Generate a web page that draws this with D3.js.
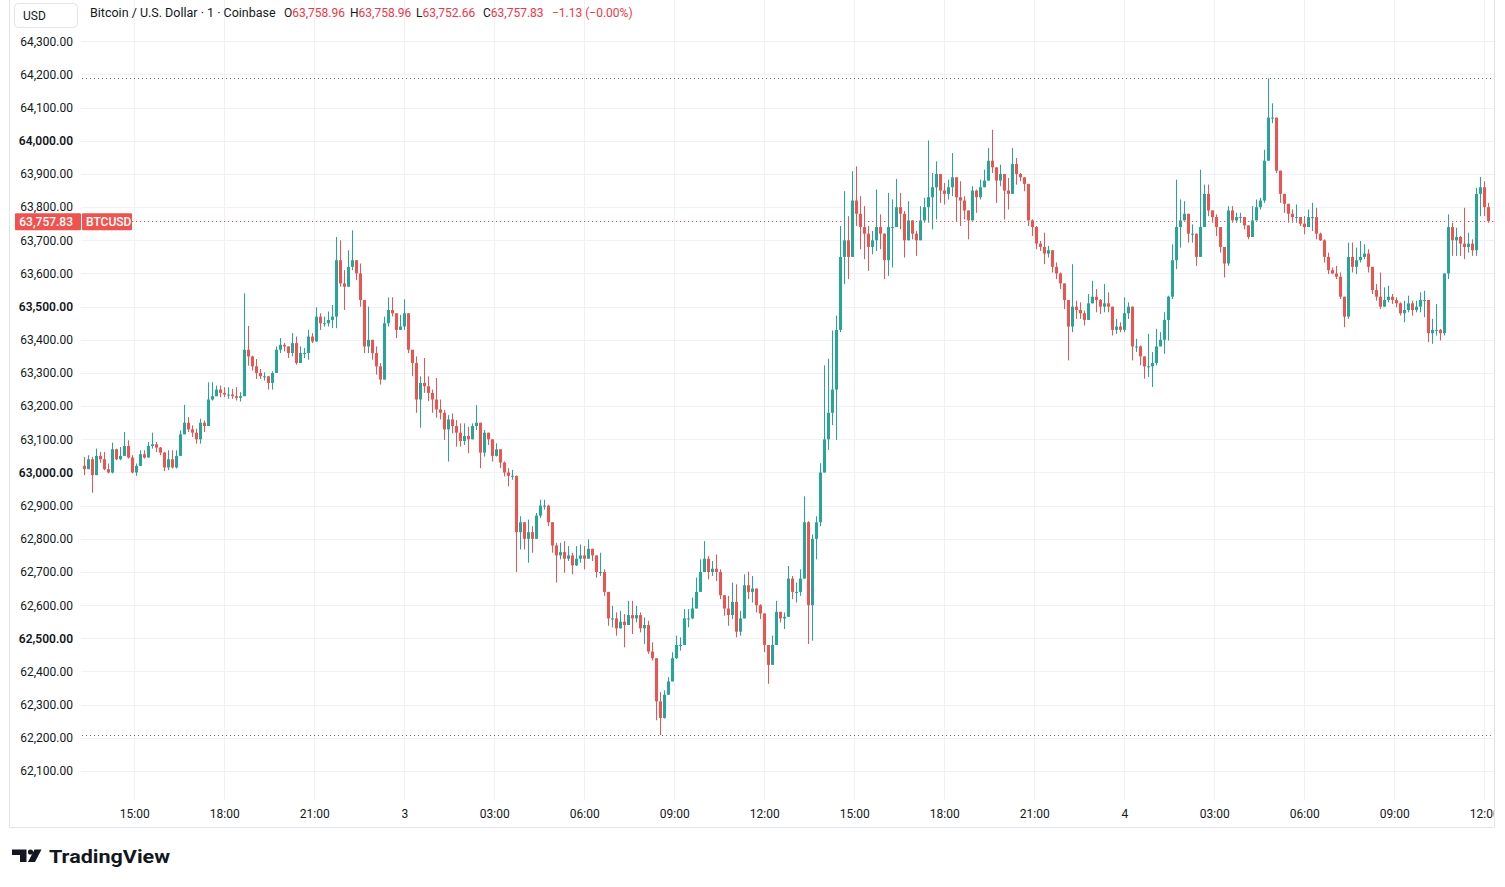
<!DOCTYPE html>
<html><head><meta charset="utf-8">
<script src="https://cdn.jsdelivr.net/npm/d3@7"></script>
<style>
body{margin:0;background:#fff;}
svg{display:block;font-family:Roboto,"Liberation Sans",sans-serif;}
</style>
</head><body>
<svg id="chart" width="1505" height="887"></svg>
<script>
// ---------------- data ----------------
const startTime = "2024-10-02T13:16:00Z";   // first (8-minute) candle
const candleMinutes = 8;
const firstOpen = 63020;
const closes = [
63010,63040,62992,63050,63040,63010,63000,63070,63040,63050,
63080,63045,63000,63020,63055,63045,63080,63085,63075,63060,
63015,63040,63015,63050,63115,63150,63130,63120,63100,63150,
63140,63220,63230,63250,63240,63235,63235,63230,63225,63230,
63370,63350,63320,63300,63290,63290,63270,63300,63370,63385,
63380,63360,63390,63330,63360,63360,63410,63395,63470,63450,
63450,63460,63470,63640,63570,63560,63620,63640,63600,63520,
63380,63400,63360,63320,63280,63450,63490,63480,63430,63440,
63480,63370,63330,63220,63270,63260,63240,63220,63190,63180,
63130,63160,63140,63120,63095,63110,63100,63140,63150,63060,
63120,63100,63050,63070,63030,63000,62990,62990,62820,62850,
62800,62820,62800,62870,62900,62900,62850,62780,62750,62760,
62740,62750,62720,62740,62750,62740,62770,62750,62700,62700,
62640,62560,62560,62530,62550,62540,62570,62560,62570,62530,
62540,62460,62440,62310,62260,62330,62370,62440,62480,62480,
62560,62560,62590,62640,62700,62740,62700,62710,62700,62630,
62590,62570,62610,62520,62560,62660,62640,62650,62600,62575,
62480,62420,62480,62580,62560,62565,62680,62640,62640,62680,
62850,62600,62800,62850,63000,63100,63180,63250,63430,63650,
63700,63650,63820,63780,63740,63720,63680,63700,63740,63720,
63640,63740,63740,63800,63780,63700,63760,63720,63700,63760,
63800,63830,63860,63900,63850,63840,63860,63890,63830,63820,
63790,63760,63850,63830,63860,63880,63940,63920,63880,63900,
63850,63840,63930,63900,63890,63870,63760,63740,63690,63680,
63660,63670,63620,63600,63570,63520,63440,63500,63490,63480,
63460,63510,63530,63520,63500,63510,63500,63430,63440,63430,
63480,63500,63380,63380,63350,63320,63320,63330,63380,63400,
63460,63530,63640,63740,63760,63780,63720,63720,63650,63740,
63840,63790,63770,63740,63680,63630,63790,63760,63770,63770,
63745,63710,63760,63800,63820,63940,64070,64070,63910,63840,
63810,63780,63770,63770,63750,63740,63770,63770,63720,63700,
63650,63610,63600,63590,63530,63470,63650,63620,63640,63650,
63660,63620,63550,63530,63500,63520,63530,63520,63510,63480,
63490,63510,63490,63500,63520,63520,63420,63430,63430,63420,
63600,63740,63700,63710,63690,63680,63690,63670,63840,63860,
63800,63757.83
];
const highs = [
63047,63052,63047,63072,63062,63062,63027,63090,63072,63077,
63122,63097,63052,63027,63067,63067,63092,63120,63092,63077,
63062,63067,63067,63067,63127,63204,63167,63142,63132,63162,
63157,63272,63272,63262,63262,63257,63257,63252,63257,63242,
63540,63442,63352,63342,63312,63302,63290,63305,63380,63405,
63390,63375,63420,63410,63380,63375,63430,63420,63498,63480,
63470,63485,63505,63710,63700,63610,63670,63730,63630,63630,
63510,63500,63380,63380,63330,63470,63528,63528,63480,63475,
63522,63470,63360,63350,63290,63345,63290,63250,63285,63220,
63188,63173,63178,63158,63148,63148,63138,63148,63203,63128,
63128,63118,63098,63088,63053,63033,63013,63008,62988,62868,
62838,62858,62838,62878,62918,62918,62903,62838,62788,62788,
62793,62778,62758,62778,62783,62778,62798,62768,62748,62758,
62708,62613,62598,62578,62583,62573,62613,62613,62598,62578,
62563,62553,62488,62413,62338,62343,62383,62458,62508,62503,
62588,62588,62623,62683,62738,62793,62748,62733,62753,62708,
62628,62628,62668,62663,62583,62693,62701,62688,62618,62603,
62533,62478,62508,62613,62578,62578,62718,62688,62668,62708,
62928,62853,62813,62868,63028,63323,63343,63428,63473,63743,
63848,63773,63908,63923,63833,63803,63743,63728,63853,63778,
63713,63843,63823,63885,63843,63788,63818,63733,63728,63803,
63828,64001,63903,63938,63883,63873,63883,63963,63883,63878,
63833,63783,63863,63853,63883,63913,63978,64033,63913,63928,
63883,63888,63978,63948,63903,63888,63868,63763,63743,63698,
63723,63683,63663,63633,63603,63563,63468,63628,63518,63513,
63488,63538,63578,63553,63523,63568,63543,63473,63463,63453,
63528,63513,63473,63403,63383,63343,63418,63363,63433,63423,
63483,63533,63688,63883,63823,63818,63758,63748,63693,63913,
63868,63868,63778,63778,63723,63648,63803,63803,63783,63783,
63753,63743,63803,63823,63828,63973,64188,64113,64013,63898,
63833,63808,63793,63808,63768,63773,63793,63813,63798,63723,
63703,63663,63618,63623,63603,63523,63693,63693,63678,63698,
63688,63673,63608,63568,63603,63558,63563,63538,63528,63513,
63518,63533,63518,63518,63543,63548,63483,63463,63508,63433,
63593,63778,63753,63738,63713,63798,63723,63703,63858,63891,
63878,63813
];
const lows = [
62992,63012,62939,62992,63029,63007,62997,62997,63037,63037,
63052,63042,62997,62990,63022,63042,63057,63072,63062,63052,
63004,63007,63012,63012,63062,63122,63122,63107,63087,63087,
63122,63152,63217,63237,63227,63227,63222,63222,63217,63214,
63232,63322,63307,63282,63282,63277,63250,63250,63300,63360,
63365,63345,63350,63325,63335,63345,63340,63390,63405,63430,
63440,63440,63435,63435,63560,63490,63585,63610,63580,63500,
63360,63360,63340,63295,63265,63320,63440,63470,63405,63430,
63430,63360,63290,63180,63135,63240,63215,63180,63165,63160,
63098,63033,63118,63078,63078,63083,63058,63103,63128,63013,
63048,63083,63033,63048,63013,62988,62958,62978,62700,62768,
62768,62728,62758,62838,62863,62888,62838,62758,62668,62738,
62698,62733,62693,62718,62728,62708,62748,62733,62683,62688,
62628,62538,62533,62508,62538,62473,62558,62513,62548,62518,
62483,62453,62433,62253,62208,62258,62338,62388,62438,62463,
62508,62533,62558,62603,62658,62733,62678,62688,62673,62618,
62568,62538,62558,62503,62508,62568,62618,62608,62578,62558,
62458,62363,62463,62543,62548,62528,62568,62618,62608,62628,
62723,62483,62493,62738,62838,63003,63068,63143,63098,63423,
63568,63583,63723,63743,63673,63643,63608,63658,63668,63673,
63583,63593,63618,63753,63733,63648,63703,63703,63653,63728,
63753,63753,63733,63763,63813,63808,63823,63833,63758,63743,
63763,63703,63763,63783,63823,63863,63888,63903,63813,63863,
63763,63793,63853,63868,63878,63848,63743,63713,63673,63668,
63628,63648,63603,63583,63553,63493,63338,63423,63463,63463,
63443,63473,63513,63483,63478,63483,63483,63413,63418,63423,
63423,63463,63338,63363,63323,63283,63288,63258,63323,63383,
63358,63398,63523,63613,63678,63763,63693,63693,63623,63653,
63803,63773,63753,63713,63663,63588,63623,63753,63753,63753,
63733,63703,63743,63768,63793,63813,63943,64053,63903,63813,
63783,63753,63753,63753,63743,63718,63743,63728,63703,63698,
63633,63598,63598,63583,63523,63438,63463,63603,63598,63633,
63643,63603,63538,63518,63493,63503,63513,63508,63498,63473,
63453,63483,63473,63483,63483,63468,63393,63388,63413,63398,
63413,63583,63653,63653,63653,63643,63663,63653,63653,63773,
63773,63752.66
];
const priceTicks = [62100,62200,62300,62400,62500,62600,62700,62800,62900,63000,63100,63200,
  63300,63400,63500,63600,63700,63800,63900,64000,64100,64200,64300];
const majorPriceTicks = [62500,63000,63500,64000];
const timeTicks = ["2024-10-02T15:00:00Z","2024-10-02T18:00:00Z","2024-10-02T21:00:00Z","2024-10-03T00:00:00Z",
  "2024-10-03T03:00:00Z","2024-10-03T06:00:00Z","2024-10-03T09:00:00Z","2024-10-03T12:00:00Z",
  "2024-10-03T15:00:00Z","2024-10-03T18:00:00Z","2024-10-03T21:00:00Z","2024-10-04T00:00:00Z",
  "2024-10-04T03:00:00Z","2024-10-04T06:00:00Z","2024-10-04T09:00:00Z","2024-10-04T12:00:00Z"];
const timeTickLabels = ["15:00","18:00","21:00","3","03:00","06:00","09:00","12:00",
  "15:00","18:00","21:00","4","03:00","06:00","09:00","12:00"];
const symbolTitle = "Bitcoin / U.S. Dollar · 1 · Coinbase";
const symbolTicker = "BTCUSD";
const currencyLabel = "USD";
const lastBarLetters = ["O","H","L","C"];
const lastBarValues = [63758.96, 63758.96, 63752.66, 63757.83];
const lastChange = "−1.13 (−0.00%)";

// ---------------- setup ----------------
const UP = "#26a69a", DOWN = "#ef5350", TEXT = "#131722", GRID = "#eff1f4", BORDER = "#e0e3eb";
const svg = d3.select("#chart");
const fmt = d3.format(",.2f");
const t0 = new Date(startTime);
const ms = candleMinutes * 60000;
const tEnd = new Date(t0.getTime() + closes.length * ms);

const plot = {left: 81, right: 1494, top: 0, bottom: 800};
const x = d3.scaleUtc().domain([t0, tEnd]).range([82.3, 1490.3]);
const y = d3.scaleLinear().domain([62100, 64300]).range([771, 41.3]);
const px = v => Math.round(v) + 0.5;

const data = closes.map((c, i) => {
  const o = i === 0 ? firstOpen : closes[i - 1];
  return {t: new Date(t0.getTime() + i * ms), o, c,
          h: Math.max(highs[i], o, c), l: Math.min(lows[i], o, c)};
});

const defs = svg.append("defs");
defs.append("clipPath").attr("id", "plotClip").append("rect")
  .attr("x", plot.left).attr("y", plot.top).attr("width", plot.right - plot.left).attr("height", plot.bottom - plot.top);
defs.append("clipPath").attr("id", "frameClip").append("rect")
  .attr("x", 10).attr("y", 0).attr("width", plot.right - 10).attr("height", 828);

// frame
svg.append("path").attr("d", `M9.5,0 V827.5 H1494.5 V0`).attr("fill", "none").attr("stroke", BORDER);

// grid
const tickDates = timeTicks.map(s => new Date(s));
const grid = svg.append("g").attr("clip-path", "url(#plotClip)");
grid.selectAll("line.h").data(priceTicks).join("line").attr("class", "h")
  .attr("x1", plot.left).attr("x2", plot.right).attr("y1", d => px(y(d))).attr("y2", d => px(y(d)))
  .attr("stroke", GRID);
svg.append("g").attr("clip-path", "url(#frameClip)").selectAll("line.v").data(tickDates).join("line").attr("class", "v")
  .attr("x1", d => px(x(d))).attr("x2", d => px(x(d))).attr("y1", 0).attr("y2", plot.bottom)
  .attr("stroke", GRID);

// candles
const half = ms / 2;
const cg = svg.append("g").attr("clip-path", "url(#plotClip)");
const candle = cg.selectAll("g").data(data).join("g")
  .attr("fill", d => d.c >= d.o ? UP : DOWN).attr("stroke", d => d.c >= d.o ? UP : DOWN);
candle.append("line")
  .attr("x1", d => px(x(new Date(d.t.getTime() + half)))).attr("x2", d => px(x(new Date(d.t.getTime() + half))))
  .attr("y1", d => y(d.h)).attr("y2", d => y(d.l)).attr("stroke-width", 1);
candle.append("rect").attr("stroke", "none")
  .attr("x", d => Math.round(x(new Date(d.t.getTime() + half))) - 1)
  .attr("width", 3)
  .attr("y", d => y(Math.max(d.o, d.c)))
  .attr("height", d => Math.max(1, Math.abs(y(d.o) - y(d.c))));

// high / low dotted lines
const hi = d3.max(data, d => d.h), lo = d3.min(data, d => d.l);
svg.append("g").attr("clip-path", "url(#plotClip)").selectAll("line").data([hi, lo]).join("line")
  .attr("x1", 82).attr("x2", plot.right).attr("y1", d => px(y(d))).attr("y2", d => px(y(d)))
  .attr("stroke", "#6a6d78").attr("stroke-dasharray", "1,3");

// current price line
const last = closes[closes.length - 1];
svg.append("line").attr("x1", 132).attr("x2", plot.right).attr("y1", px(y(last))).attr("y2", px(y(last)))
  .attr("stroke", DOWN).attr("stroke-dasharray", "1.2,2.8");

// price axis
const yAxis = d3.axisLeft(y).tickValues(priceTicks).tickFormat(fmt).tickSize(0).tickPadding(0);
const ya = svg.append("g").attr("transform", "translate(73,0)").call(yAxis);
ya.select(".domain").remove();
ya.selectAll("text").attr("font-size", 12).attr("fill", TEXT)
  .attr("font-family", "Roboto, sans-serif")
  .attr("font-weight", d => majorPriceTicks.includes(d) ? 600 : 400);

// time axis
const xAxis = d3.axisBottom(x).tickValues(tickDates).tickFormat((d, i) => timeTickLabels[i]).tickSize(0).tickPadding(9);
const xa = svg.append("g").attr("transform", `translate(0,${plot.bottom})`).attr("clip-path", "url(#frameClip)").call(xAxis);
xa.select(".domain").remove();
xa.selectAll("text").attr("font-size", 12).attr("fill", TEXT).attr("font-family", "Roboto, sans-serif");

// current price label + ticker label
const ly = y(last);
svg.append("rect").attr("x", 15).attr("y", ly - 8).attr("width", 66).attr("height", 17).attr("rx", 1).attr("fill", DOWN);
svg.append("text").attr("x", 73).attr("y", ly + 0.5).attr("dy", "0.35em").attr("text-anchor", "end")
  .attr("font-size", 12).attr("font-weight", 500).attr("fill", "#fff").text(fmt(last));
svg.append("rect").attr("x", 82).attr("y", ly - 8).attr("width", 50).attr("height", 17).attr("rx", 1).attr("fill", DOWN);
svg.append("text").attr("x", 86).attr("y", ly + 0.5).attr("dy", "0.35em")
  .attr("font-size", 12).attr("font-weight", 500).attr("fill", "#fff").text(symbolTicker);

// currency box
svg.append("rect").attr("x", 14.5).attr("y", 3.5).attr("width", 63).attr("height", 24).attr("rx", 4)
  .attr("fill", "#fff").attr("stroke", BORDER);
svg.append("text").attr("x", 23).attr("y", 20).attr("font-size", 12).attr("fill", TEXT).text(currencyLabel);

// legend
svg.append("text").attr("x", 90).attr("y", 17).attr("font-size", 12.5).attr("fill", TEXT).text(symbolTitle);
const legendX = [284, 350, 416, 483];
lastBarLetters.forEach((L, i) => {
  const t = svg.append("text").attr("x", legendX[i]).attr("y", 17).attr("font-size", 12);
  t.append("tspan").attr("fill", TEXT).text(L);
  t.append("tspan").attr("fill", "#f23645").text(fmt(lastBarValues[i]));
});
svg.append("text").attr("x", 552).attr("y", 17).attr("font-size", 12).attr("fill", "#f23645").text(lastChange);

// TradingView logo
const logo = svg.append("g").attr("fill", TEXT);
logo.append("path").attr("d", "M12,849.5 H26.5 V862 H20 V855 H12 Z");
logo.append("circle").attr("cx", 30.5).attr("cy", 852).attr("r", 2.6);
logo.append("path").attr("d", "M34.5,849.5 H41.5 L35,862 H28 Z");
logo.append("text").attr("x", 49).attr("y", 862.5).attr("font-size", 19).attr("font-weight", 700)
  .attr("textLength", 121).attr("lengthAdjust", "spacingAndGlyphs").text("TradingView");
</script>
</body></html>
